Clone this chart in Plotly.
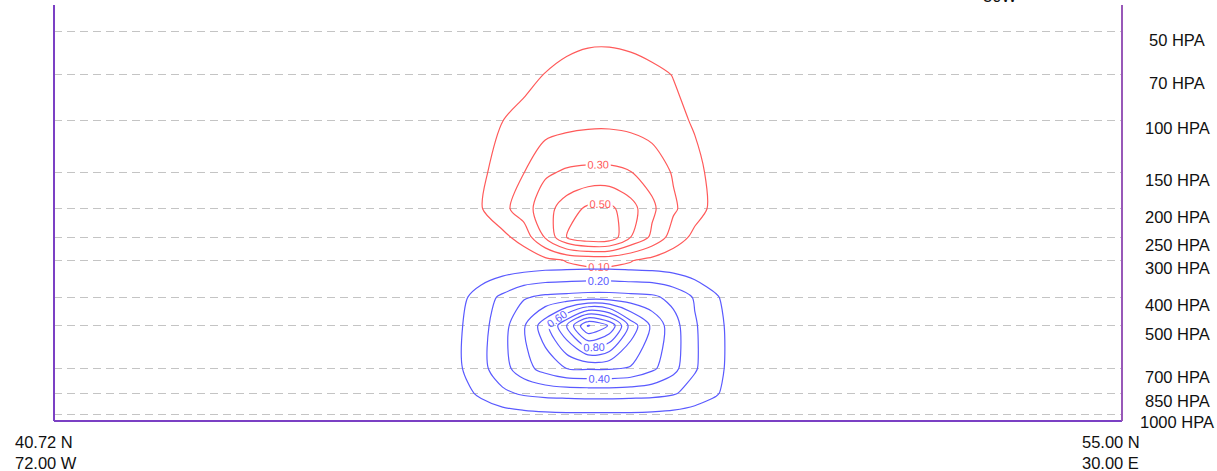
import numpy as np
import plotly.graph_objects as go

# Pressure levels of the cross section (hPa) and their labels
levels = [50, 70, 100, 150, 200, 250, 300, 400, 500, 700, 850, 1000]
level_labels = ["50 HPA", "70 HPA", "100 HPA", "150 HPA", "200 HPA", "250 HPA",
                "300 HPA", "400 HPA", "500 HPA", "700 HPA", "850 HPA", "1000 HPA"]

# Distance along the section (percent of the path length)
section_x = [34, 36, 38, 40, 42, 44, 46, 48, 50, 52, 54, 56, 58, 60, 62, 64, 66, 68]

# Upper-level field (red), one row per pressure level
red_field = [
    [0, 0, 0, 0.02, 0.03, 0.04, 0.05, 0.06, 0.07, 0.07, 0.06, 0.04, 0.03, 0.02, 0.01, 0, 0, 0],              # 50
    [0, 0, 0.01, 0.03, 0.05, 0.075, 0.103, 0.13, 0.15, 0.155, 0.145, 0.125, 0.097, 0.07, 0.045, 0.025, 0.01, 0],  # 70
    [0, 0.01, 0.04, 0.07, 0.099, 0.125, 0.148, 0.165, 0.175, 0.176, 0.168, 0.152, 0.125, 0.09, 0.06, 0.03, 0.01, 0],  # 100
    [0, 0.02, 0.045, 0.08, 0.145, 0.198, 0.285, 0.312, 0.32, 0.32, 0.302, 0.26, 0.19, 0.125, 0.07, 0.035, 0.01, 0],  # 150
    [0, 0.01, 0.04, 0.095, 0.17, 0.255, 0.36, 0.45, 0.52, 0.525, 0.44, 0.32, 0.215, 0.14, 0.07, 0.03, 0.01, 0],  # 200
    [0, 0, 0.01, 0.03, 0.075, 0.14, 0.31, 0.5, 0.58, 0.57, 0.4, 0.28, 0.155, 0.075, 0.03, 0.01, 0, 0],  # 250
    [0, 0, 0, 0.01, 0.02, 0.04, 0.07, 0.105, 0.12, 0.12, 0.105, 0.07, 0.04, 0.02, 0.01, 0, 0, 0],  # 300
    [0] * 18,  # 400
    [0] * 18,  # 500
    [0] * 18,  # 700
    [0] * 18,  # 850
    [0] * 18,  # 1000
]

# Lower-level field (blue), one row per pressure level
blue_field = [
    [0] * 18,  # 50
    [0] * 18,  # 70
    [0] * 18,  # 100
    [0] * 18,  # 150
    [0] * 18,  # 200
    [0] * 18,  # 250
    [0, 0, 0, 0, 0.01, 0.01, 0.02, 0.023, 0.025, 0.025, 0.02, 0.015, 0.01, 0, 0, 0, 0, 0],  # 300
    [0, 0.01, 0.07, 0.15, 0.22, 0.29, 0.32, 0.33, 0.34, 0.34, 0.33, 0.32, 0.27, 0.19, 0.11, 0.04, 0.01, 0],  # 400
    [0, 0.02, 0.09, 0.165, 0.26, 0.39, 0.56, 0.8, 1.11, 0.99, 0.66, 0.48, 0.34, 0.21, 0.13, 0.05, 0.01, 0],  # 500
    [0, 0.02, 0.09, 0.17, 0.26, 0.36, 0.44, 0.5, 0.51, 0.51, 0.49, 0.42, 0.33, 0.21, 0.13, 0.05, 0.01, 0],  # 700
    [0, 0.01, 0.06, 0.12, 0.18, 0.215, 0.23, 0.235, 0.24, 0.24, 0.235, 0.23, 0.21, 0.16, 0.11, 0.04, 0.01, 0],  # 850
    [0, 0, 0.02, 0.04, 0.06, 0.075, 0.085, 0.09, 0.09, 0.09, 0.09, 0.085, 0.075, 0.06, 0.04, 0.02, 0, 0],  # 1000
]

# End points of the section
start_labels = ["40.72 N", "72.00 W"]
end_labels = ["55.00 N", "30.00 E"]

RED = "#ff5a5a"
BLUE = "#5a5aff"
FONT = "Liberation Sans, Arial, sans-serif"


def contour_trace(z, color, start, end, labeled):
    return go.Contour(
        x=section_x, y=levels, z=z,
        contours=dict(coloring="lines", start=start, end=end, size=0.2,
                      showlabels=labeled,
                      labelfont=dict(family=FONT, size=11, color=color),
                      labelformat=".2f"),
        colorscale=[[0, color], [1, color]],
        showscale=False,
        line=dict(width=1.2, smoothing=0.8),
        hoverinfo="skip",
    )


fig = go.Figure()
fig.add_trace(contour_trace(red_field, RED, 0.2, 0.4, False))
fig.add_trace(contour_trace(red_field, RED, 0.1, 0.5, True))
fig.add_trace(contour_trace(blue_field, BLUE, 0.1, 1.1, False))
fig.add_trace(contour_trace(blue_field, BLUE, 0.2, 1.0, True))

fig.update_xaxes(range=[0, 100], visible=False)
fig.update_yaxes(
    type="log",
    range=[np.log10(1056.4), np.log10(40.47)],
    tickvals=levels, showticklabels=False, ticks="",
    showgrid=True, gridcolor="#c4c4c4", gridwidth=1, griddash="8px,5px",
    zeroline=False, showline=False,
)

# Frame: left, bottom and right edges
frame_left = "#7b40c4"
frame_right = "#9858b8"
fig.add_shape(type="line", xref="paper", yref="paper", x0=0, x1=0, y0=0, y1=1,
              line=dict(color=frame_left, width=2))
fig.add_shape(type="line", xref="paper", yref="paper", x0=0, x1=1, y0=0, y1=0,
              line=dict(color=frame_left, width=2))
fig.add_shape(type="line", xref="paper", yref="paper", x0=1, x1=1, y0=0, y1=1,
              line=dict(color=frame_right, width=2))

# Pressure level labels on the right
for p, lab in zip(levels, level_labels):
    fig.add_annotation(text=lab, xref="paper", yref="y", x=1.0515, y=np.log10(p),
                       xanchor="center", yanchor="middle", yshift=-8, showarrow=False,
                       font=dict(family=FONT, size=16.5, color="#111111"))

# Section end point labels
for i, lab in enumerate(start_labels):
    fig.add_annotation(text=lab, xref="paper", yref="paper", x=0, y=0,
                       xanchor="left", yanchor="middle", xshift=-41, yshift=-21 - 21 * i,
                       showarrow=False, font=dict(family=FONT, size=16.5, color="#111111"))
for i, lab in enumerate(end_labels):
    fig.add_annotation(text=lab, xref="paper", yref="paper", x=1, y=0,
                       xanchor="left", yanchor="middle", xshift=-42, yshift=-21 - 21 * i,
                       showarrow=False, font=dict(family=FONT, size=16.5, color="#111111"))

# Longitude label along the top edge
fig.add_annotation(text="30W", xref="paper", yref="paper", x=0.886, y=1,
                   xanchor="center", yanchor="bottom", yshift=-2, showarrow=False,
                   font=dict(family=FONT, size=16.5, color="#111111"))

fig.update_layout(
    width=1217, height=471,
    margin=dict(l=54, r=95, t=5, b=50),
    paper_bgcolor="white", plot_bgcolor="white",
    showlegend=False,
)

fig.write_html("out.html")
